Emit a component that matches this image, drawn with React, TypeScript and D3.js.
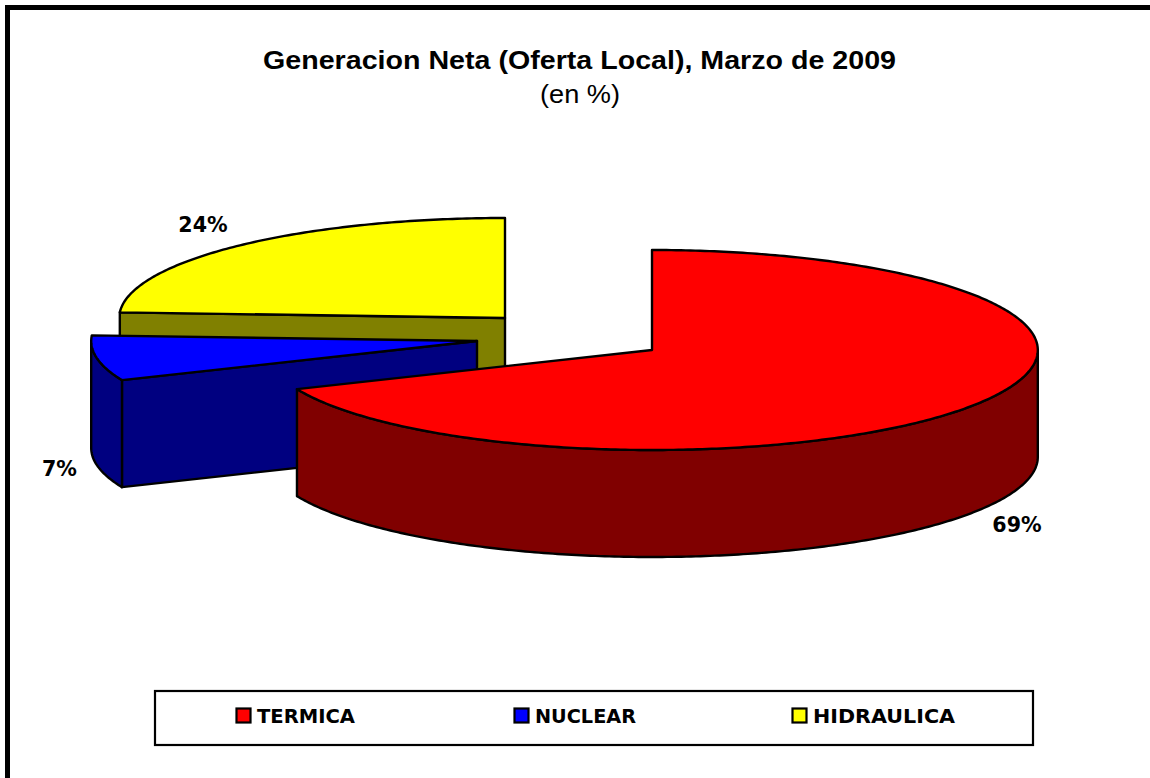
import React from "react";
import * as d3 from "d3";

const categories = ["TERMICA", "NUCLEAR", "HIDRAULICA"];
const shares = [68.6, 7.3, 24.1];
const topColors = ["#FF0000", "#0000FF", "#FFFF00"];
const wallColors = ["#800000", "#000080", "#808000"];

const W = 1150;
const H = 778;
const RX = 385.8;
const RY = 100;
const DEPTH = 107;
const centers: [number, number][] = [[652, 350], [477, 341], [505, 318]];
const labelPos: [number, number][] = [[1017, 532], [59.5, 476], [203, 232]];
const legendTextWidth = [98, 101, 142];
const drawOrder = [2, 1, 0];
const FONT = "'DejaVu Sans', Verdana, sans-serif";
const TITLE_FONT = "'Liberation Sans', Arial, sans-serif";

type P = [number, number];
const line = d3.line<P>();

const slices = d3.pie<number>().sort(null).value((d) => d).startAngle(0).endAngle(2 * Math.PI)(shares);

function rim(c: P, a: number): P {
  return [c[0] + RX * Math.sin(a), c[1] - RY * Math.cos(a)];
}
function arcPts(c: P, a0: number, a1: number, dy = 0): P[] {
  const n = Math.max(2, Math.ceil(Math.abs(a1 - a0) * 80));
  return d3.range(n + 1).map((i) => {
    const p = rim(c, a0 + ((a1 - a0) * i) / n);
    return [p[0], p[1] + dy] as P;
  });
}

function Slice({ i }: { i: number }) {
  const s = slices[i];
  const c = centers[i];
  const top = line([c, ...arcPts(c, s.startAngle, s.endAngle)])! + "Z";
  const faces: string[] = [];
  const cut = (a: number) => {
    const r = rim(c, a);
    return line([c, r, [r[0], r[1] + DEPTH], [c[0], c[1] + DEPTH]])! + "Z";
  };
  if (Math.sin(s.startAngle) < -1e-6) faces.push(cut(s.startAngle));
  if (Math.sin(s.endAngle) > 1e-6) faces.push(cut(s.endAngle));
  const a0 = Math.max(s.startAngle, Math.PI / 2);
  const a1 = Math.min(s.endAngle, (3 * Math.PI) / 2);
  const wall =
    a1 > a0
      ? line([...arcPts(c, a0, a1), ...arcPts(c, a1, a0, DEPTH)])! + "Z"
      : null;
  return (
    <g stroke="#000" strokeWidth={2.4} strokeLinejoin="round">
      {faces.map((d, k) => (
        <path key={k} d={d} fill={wallColors[i]} />
      ))}
      {wall && <path d={wall} fill={wallColors[i]} />}
      <path d={top} fill={topColors[i]} />
    </g>
  );
}

export default function App() {
  const legendX = d3.scaleLinear().domain([0, 1]).range([236, 514]);
  return (
    <svg
      width={W}
      height={H}
      viewBox={`0 0 ${W} ${H}`}
      style={{ position: "absolute", left: 0, top: 0, background: "#fff" }}
    >
      <rect x={7.5} y={7.5} width={W + 20} height={H + 20} fill="#fff" stroke="#000" strokeWidth={5} />
      <text x={263} y={69} fontFamily={TITLE_FONT} fontWeight={700} fontSize={26} textLength={633} lengthAdjust="spacingAndGlyphs">
        Generacion Neta (Oferta Local), Marzo de 2009
      </text>
      <text x={540} y={103} fontFamily={TITLE_FONT} fontSize={25.5} textLength={80} lengthAdjust="spacingAndGlyphs">
        (en %)
      </text>
      {drawOrder.map((i) => (
        <Slice key={i} i={i} />
      ))}
      {shares.map((v, i) => (
        <text key={i} x={labelPos[i][0]} y={labelPos[i][1]} textAnchor="middle" fontFamily={FONT} fontWeight={700} fontSize={20.6}>
          {Math.round(v)}%
        </text>
      ))}
      <rect x={155} y={691} width={878} height={54} fill="#fff" stroke="#000" strokeWidth={2.2} />
      {categories.map((name, i) => (
        <g key={name}>
          <rect x={legendX(i) + 0.5} y={708.5} width={14} height={14} fill={topColors[i]} stroke="#000" strokeWidth={2.2} />
          <text x={legendX(i) + 21} y={723} fontFamily={FONT} fontWeight={700} fontSize={19.3} textLength={legendTextWidth[i]} lengthAdjust="spacingAndGlyphs">
            {name}
          </text>
        </g>
      ))}
    </svg>
  );
}
